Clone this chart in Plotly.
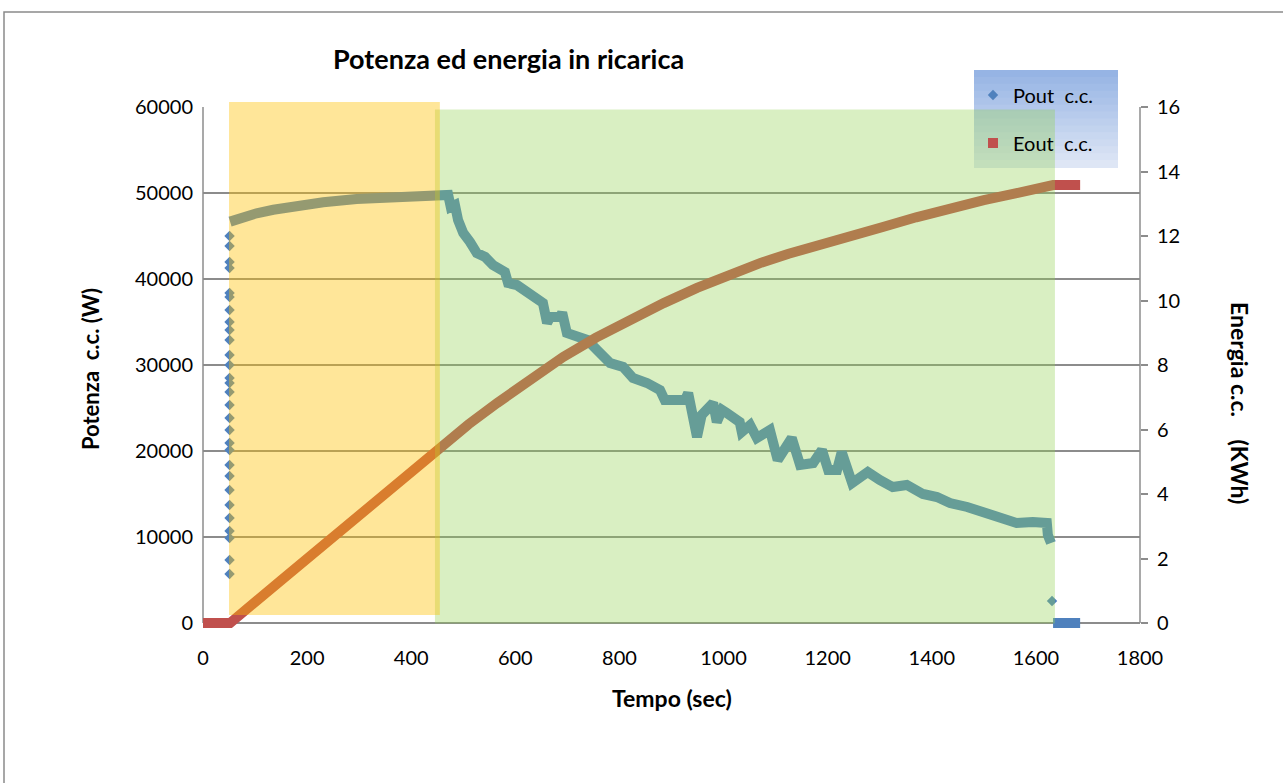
import plotly.graph_objects as go

# ---------------- data ----------------
# Pout c.c. (W) – main continuous band
pout_t = [52, 75, 103, 135, 167, 231, 295, 359, 423, 455, 471, 476, 484, 490, 500, 513, 526,
          542, 557, 580, 586, 603, 619, 628, 653, 661, 667, 686, 690, 699, 718, 738, 757, 782,
          807, 826, 853, 878, 887, 926, 932, 941, 949, 958, 980, 987, 997, 1006, 1018, 1031,
          1035, 1051, 1064, 1089, 1104, 1131, 1147, 1172, 1189, 1201, 1218, 1227, 1247, 1277,
          1300, 1325, 1352, 1383, 1410, 1435, 1468, 1498, 1531, 1563, 1594, 1621, 1623, 1629]
pout_w = [46670, 47200, 47640, 48050, 48410, 48920, 49300, 49570, 49730, 49850, 49770, 48370,
          48600, 46860, 45350, 44300, 43020, 42560, 41630, 40810, 39530, 39300, 38720, 38140,
          37210, 34880, 35580, 35580, 36100, 33720, 33260, 32910, 31740, 30230, 29770, 28490,
          27910, 27090, 25930, 25930, 26740, 24420, 21630, 24190, 25580, 23370, 24770, 24420,
          23840, 23370, 22210, 23020, 21510, 22440, 18950, 21510, 18370, 18600, 20120, 17790,
          17790, 19880, 16280, 17560, 16630, 15810, 16050, 15000, 14650, 13950, 13490, 12910,
          12330, 11630, 11740, 11630, 10230, 9300]
# Pout after the end of charge
pout_end_t = [1633, 1685]
pout_end_w = [0, 0]
# isolated Pout points (ramp-up at start, last point before zero)
pout_pts_t = [51] * 29 + [1631]
pout_pts_w = [45000, 43840, 41980, 41280, 38370, 37910, 36400, 35000, 34070, 32910, 31160,
              30000, 28490, 27910, 26860, 25350, 23840, 22440, 20930, 20120, 18370, 17090,
              15470, 13720, 12210, 10700, 9880, 7330, 5700, 2560]

# Eout c.c. (kWh)
eout_t = [0, 52, 150, 250, 350, 450, 510, 565, 630, 692, 755, 820, 885, 949, 1010, 1070,
          1125, 1179, 1240, 1306, 1370, 1435, 1500, 1563, 1633, 1685]
eout_kwh = [0, 0, 1.32, 2.68, 4.02, 5.40, 6.16, 6.82, 7.56, 8.25, 8.85, 9.40, 9.92, 10.39,
            10.80, 11.16, 11.45, 11.72, 12.00, 12.28, 12.58, 12.87, 13.11, 13.33, 13.58, 13.58]

# phases (sec)
phase1 = (50, 455)
phase2 = (445.6, 1636.6)

x_ticks = [0, 200, 400, 600, 800, 1000, 1200, 1400, 1600, 1800]
y_ticks = [0, 10000, 20000, 30000, 40000, 50000, 60000]
y2_ticks = [0, 2, 4, 6, 8, 10, 12, 14, 16]

# ---------------- layout geometry ----------------
W, H = 1283, 783
L, R, T, B = 203, 1140, 107, 629
Y0PX = 623  # pixel row of value 0
YMAX, Y2MAX = 60000, 16
YMIN = -YMAX * (B - Y0PX) / (Y0PX - T)
Y2MIN = -Y2MAX * (B - Y0PX) / (Y0PX - T)


def px_x(px):
    return (px - L) / (R - L)


def px_y(py):
    return (B - py) / (B - T)


BLUE = "#4F81BD"
RED = "#C0504D"
GRAY = "#8C8C8C"
FONT = "Lato"

fig = go.Figure()

fig.add_trace(go.Scatter(x=eout_t, y=eout_kwh, mode="lines", yaxis="y2",
                         line=dict(color=RED, width=10), showlegend=False,
                         hoverinfo="skip"))
fig.add_trace(go.Scatter(x=pout_t + [None] + pout_end_t, y=pout_w + [None] + pout_end_w,
                         mode="lines", line=dict(color=BLUE, width=10), showlegend=False,
                         hoverinfo="skip"))
fig.add_trace(go.Scatter(x=pout_pts_t, y=pout_pts_w, mode="markers", name="Pout  c.c.",
                         marker=dict(symbol="diamond", size=8, color=BLUE),
                         legend="legend", cliponaxis=False))
fig.add_trace(go.Scatter(x=[None], y=[None], mode="markers", name="Eout  c.c.", yaxis="y2",
                         marker=dict(symbol="square", size=10, color=RED),
                         legend="legend2"))

shapes = []
# axis lines
shapes.append(dict(type="line", xref="paper", yref="y", x0=0, x1=0, y0=0, y1=YMAX,
                   line=dict(color=GRAY, width=1.5), layer="below"))
shapes.append(dict(type="line", xref="paper", yref="y", x0=1, x1=1, y0=0, y1=YMAX,
                   line=dict(color=GRAY, width=1.5), layer="below"))
# legend box gradient
top_c = (150, 180, 228)
bot_c = (222, 230, 245)
n = 14
lx0, lx1, ly0, ly1 = 974, 1118, 70, 167
for i in range(n):
    f = i / (n - 1)
    c = tuple(int(round(top_c[k] + (bot_c[k] - top_c[k]) * f)) for k in range(3))
    ya = ly0 + (ly1 - ly0) * i / n
    yb = ly0 + (ly1 - ly0) * (i + 1) / n
    shapes.append(dict(type="rect", xref="paper", yref="paper", x0=px_x(lx0), x1=px_x(lx1),
                       y0=px_y(ya), y1=px_y(yb) - 0.002, fillcolor="rgb(%d,%d,%d)" % c,
                       line=dict(width=0), layer="above"))
# phase rectangles
shapes.append(dict(type="rect", xref="x", yref="paper", x0=phase2[0], x1=phase2[1],
                   y0=px_y(623.5), y1=px_y(109.5), fillcolor="rgba(146,208,80,0.35)",
                   line=dict(width=0), layer="above"))
shapes.append(dict(type="rect", xref="x", yref="paper", x0=phase1[0], x1=phase1[1],
                   y0=px_y(615), y1=px_y(102), fillcolor="rgba(255,192,0,0.4)",
                   line=dict(width=0), layer="above"))
# outer chart border
shapes.append(dict(type="rect", xref="paper", yref="paper", x0=px_x(4), x1=px_x(1300),
                   y0=px_y(800), y1=px_y(12), line=dict(color="#8a8a8a", width=1.5),
                   fillcolor="rgba(0,0,0,0)", layer="above"))

annotations = [
    dict(text="<b>Potenza ed energia in ricarica</b>", xref="paper", yref="paper",
         x=px_x(508), y=px_y(58), showarrow=False, xanchor="center", yanchor="middle",
         font=dict(family=FONT, size=27, color="black")),
    dict(text="<b>Tempo (sec)</b>", xref="paper", yref="paper",
         x=px_x(672), y=px_y(698), showarrow=False, xanchor="center", yanchor="middle",
         font=dict(family=FONT, size=23, color="black")),
    dict(text="<b>Potenza\u00a0 c.c. (W)</b>", xref="paper", yref="paper",
         x=px_x(90), y=px_y(369), showarrow=False, textangle=-90,
         xanchor="center", yanchor="middle",
         font=dict(family=FONT, size=22, color="black")),
    dict(text="<b>Energia c.c.\u00a0\u00a0\u00a0\u00a0(KWh)</b>", xref="paper", yref="paper",
         x=px_x(1240), y=px_y(403), showarrow=False, textangle=90,
         xanchor="center", yanchor="middle",
         font=dict(family=FONT, size=23, color="black")),
]

fig.update_layout(
    width=W, height=H,
    margin=dict(l=L, r=W - R, t=T, b=H - B, pad=0),
    paper_bgcolor="white", plot_bgcolor="white",
    font=dict(family=FONT, size=20, color="black"),
    xaxis=dict(range=[0, 1800], tickvals=x_ticks, showgrid=False, zeroline=False,
               showline=False, ticks="", ticklabelstandoff=15,
               tickfont=dict(family=FONT, size=20, color="black")),
    yaxis=dict(range=[YMIN, YMAX], tickvals=y_ticks, tickformat="d", showgrid=True,
               gridcolor=GRAY, gridwidth=1.5, zeroline=False, showline=False, ticks="",
               ticklabelstandoff=9, tickfont=dict(family=FONT, size=20, color="black")),
    yaxis2=dict(range=[Y2MIN, Y2MAX], tickvals=y2_ticks, overlaying="y", side="right",
                showgrid=False, zeroline=False, showline=False, ticks="outside",
                ticklen=7, tickcolor=GRAY, tickwidth=1.5, ticklabelstandoff=5,
                tickfont=dict(family=FONT, size=20, color="black")),
    legend=dict(x=px_x(973), y=px_y(95), xanchor="left", yanchor="middle",
                bgcolor="rgba(0,0,0,0)", borderwidth=0,
                font=dict(family=FONT, size=20, color="black")),
    legend2=dict(x=px_x(973), y=px_y(143), xanchor="left", yanchor="middle",
                 bgcolor="rgba(0,0,0,0)", borderwidth=0,
                 font=dict(family=FONT, size=20, color="black")),
    shapes=shapes,
    annotations=annotations,
)

fig.write_html("out.html")
